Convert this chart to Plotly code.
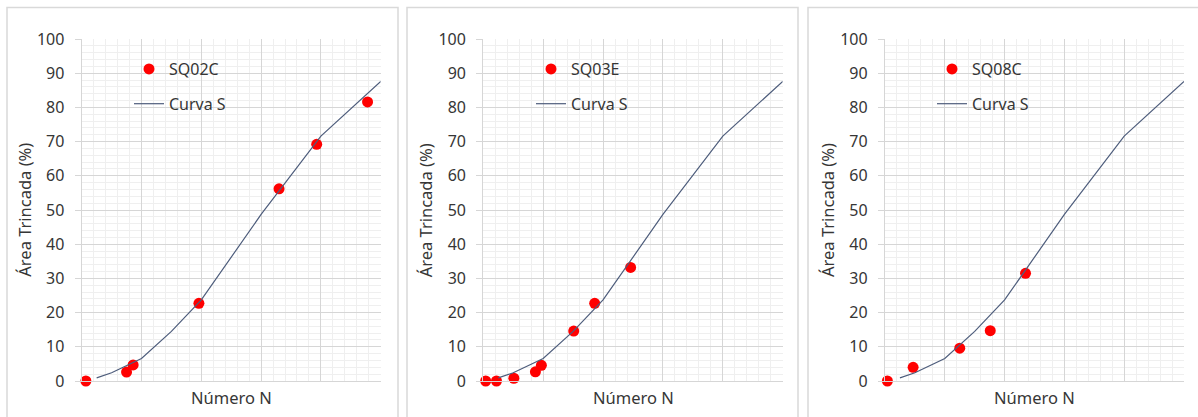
import plotly.graph_objects as go

# Curva S (shared reference curve), x in axis units of Número N
curve_x = [0.25, 0.5, 1.0, 1.5, 2.0, 3.0, 4.0, 5.0]
curve_y = [0.9, 2.4, 6.6, 14.5, 23.7, 48.7, 71.6, 87.6]

# Field sections
sq02c_x = [0.07, 0.75, 0.86, 1.96, 3.30, 3.93, 4.78]
sq02c_y = [0.0, 2.6, 4.7, 22.7, 56.2, 69.2, 81.6]

sq03e_x = [0.04, 0.22, 0.51, 0.87, 0.97, 1.51, 1.86, 2.46]
sq03e_y = [0.0, 0.0, 0.8, 2.7, 4.6, 14.6, 22.7, 33.2]

sq08c_x = [0.04, 0.47, 1.25, 1.76, 2.35]
sq08c_y = [0.0, 4.0, 9.6, 14.7, 31.5]

panels = [("SQ02C", sq02c_x, sq02c_y), ("SQ03E", sq03e_x, sq03e_y), ("SQ08C", sq08c_x, sq08c_y)]

W, H = 1198, 417
FONT = "Noto Sans"
TXT = "#363636"
FS = 16

# plot areas in pixels: (left, right), shared top/bottom
plot_x = [(81.7, 380.7), (483.3, 782.7), (885.0, 1184.0)]
plot_top, plot_bot = 39.0, 381.0
# panel frames (left, right)
frames = [(7, 398), (407, 798), (808, 1210)]
# legend boxes (left, top, right, bottom)
leg_boxes = [(115, 50, 242, 123), (517, 50, 644, 122), (918, 50, 1045, 122)]

def px(x):
    return x / W

def py(y):
    return 1 - y / H

fig = go.Figure()
shapes = []
annotations = []
layout = {}

for i, (name, xs, ys) in enumerate(panels):
    k = "" if i == 0 else str(i + 1)
    leg = "legend" if i == 0 else f"legend{i + 1}"
    fig.add_trace(go.Scatter(
        x=xs, y=ys, mode="markers", name=name,
        marker=dict(color="#ff0000", size=11),
        xaxis="x" + k, yaxis="y" + k, legend=leg, legendgroup=f"p{i}",
        cliponaxis=False,
    ))
    fig.add_trace(go.Scatter(
        x=curve_x, y=curve_y, mode="lines", name="Curva S",
        line=dict(color="#4E5D7C", width=1.2),
        xaxis="x" + k, yaxis="y" + k, legend=leg, legendgroup=f"c{i}",
        cliponaxis=False,
    ))

    x0, x1 = plot_x[i]
    layout["xaxis" + k] = dict(
        domain=[px(x0), px(x1)], range=[0, 5], dtick=1, anchor="y" + k,
        showticklabels=False, ticks="", showgrid=True, gridcolor="#d6d6d6",
        gridwidth=1.3, minor=dict(dtick=0.2, showgrid=True, gridcolor="#efefef", gridwidth=1),
        showline=True, linecolor="#d6d6d6", linewidth=1.3, zeroline=False,
        fixedrange=True, automargin=False,
    )
    layout["yaxis" + k] = dict(
        domain=[py(plot_bot), py(plot_top)], range=[0, 100], dtick=10, anchor="x" + k,
        ticks="outside", ticklen=6, tickcolor="#d6d6d6", ticklabelstandoff=7,
        tickfont=dict(family=FONT, size=FS, color=TXT),
        showgrid=True, gridcolor="#d6d6d6", gridwidth=1.3,
        minor=dict(dtick=2, showgrid=True, gridcolor="#efefef", gridwidth=1),
        showline=True, linecolor="#d6d6d6", linewidth=1.3, zeroline=False,
        fixedrange=True, automargin=False,
    )

    # panel frame
    fl, fr = frames[i]
    shapes.append(dict(type="rect", xref="paper", yref="paper",
                       x0=px(fl), x1=px(fr), y0=py(430), y1=py(7.5),
                       line=dict(color="#d9d9d9", width=1.5), fillcolor="rgba(0,0,0,0)",
                       layer="above"))
    # legend background
    lx0, ly0, lx1, ly1 = leg_boxes[i]
    shapes.append(dict(type="rect", xref="paper", yref="paper",
                       x0=px(lx0), x1=px(lx1), y0=py(ly1), y1=py(ly0),
                       line=dict(width=0), fillcolor="white", layer="between"))
    layout[leg] = dict(
        x=px(lx0 + 14), y=py(ly0 + 2), xanchor="left", yanchor="top",
        bgcolor="rgba(0,0,0,0)", borderwidth=0, tracegroupgap=11,
        font=dict(family=FONT, size=FS, color=TXT),
    )

    # axis titles
    annotations.append(dict(text="Número N", xref="paper", yref="paper",
                            x=px((x0 + x1) / 2), y=py(397), xanchor="center", yanchor="middle",
                            showarrow=False, font=dict(family=FONT, size=16.5, color=TXT)))
    annotations.append(dict(text="Área Trincada (%)", xref="paper", yref="paper",
                            x=px(x0 - 58), y=py((plot_top + plot_bot) / 2), textangle=-90,
                            xanchor="center", yanchor="middle",
                            showarrow=False, font=dict(family=FONT, size=16.5, color=TXT)))

fig.update_layout(
    width=W, height=H, margin=dict(l=0, r=0, t=0, b=0, autoexpand=False),
    paper_bgcolor="white", plot_bgcolor="white",
    shapes=shapes, annotations=annotations, showlegend=True,
    **layout,
)

fig.write_html("out.html", config={"displayModeBar": False})
